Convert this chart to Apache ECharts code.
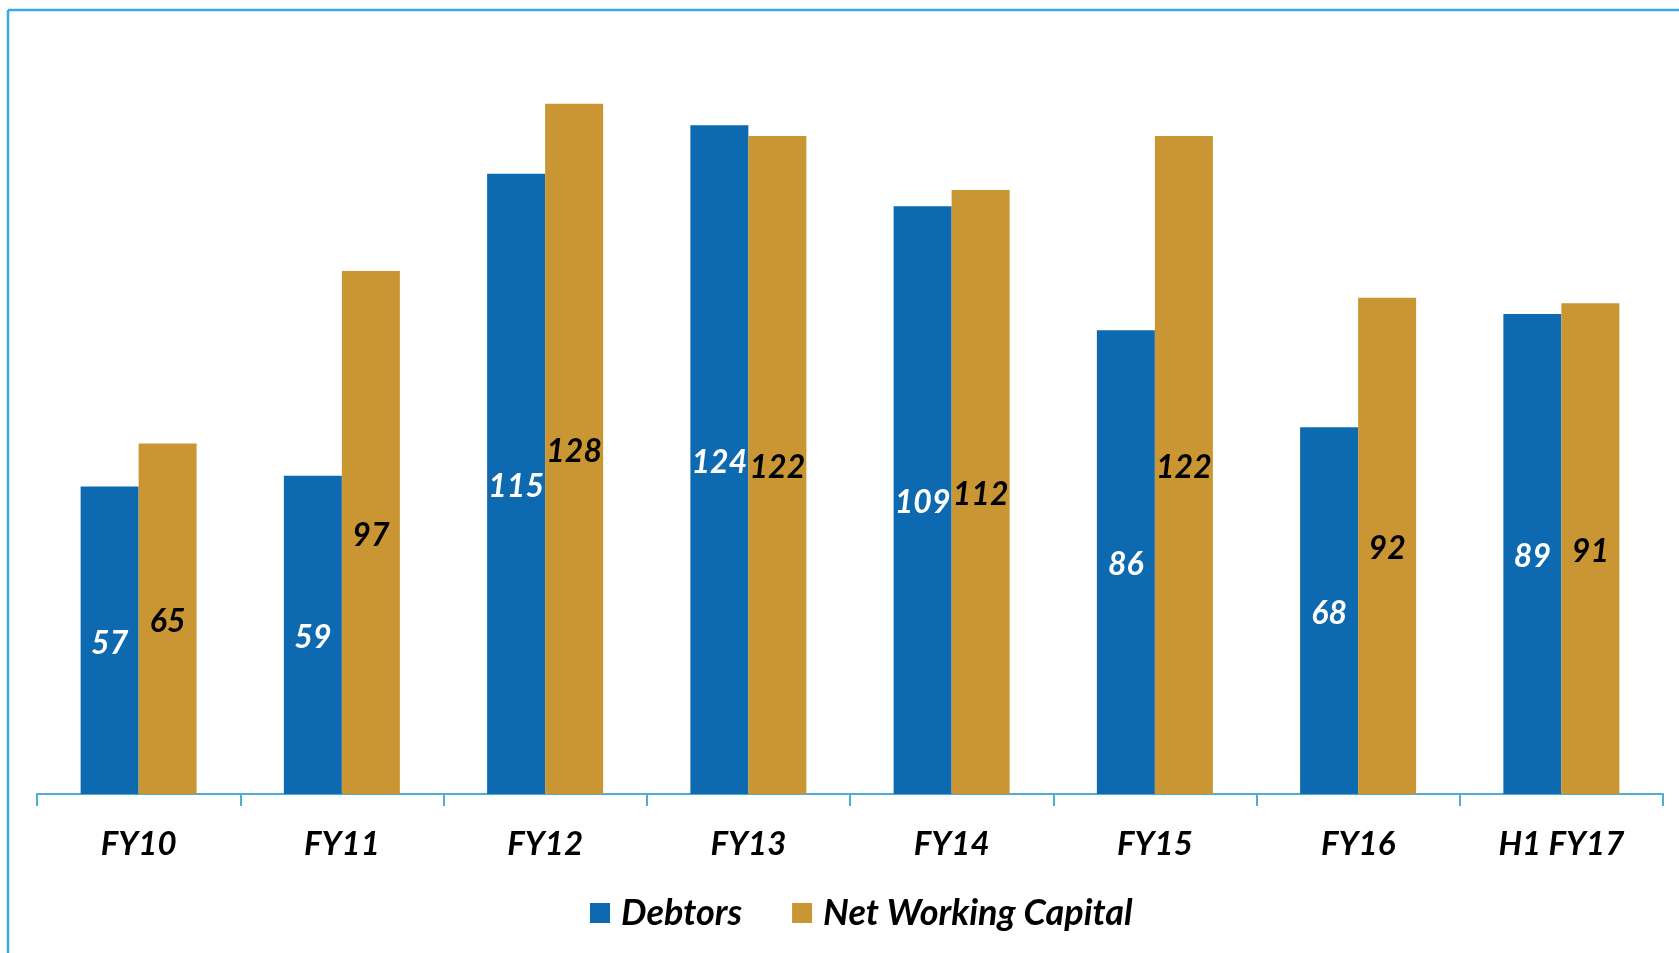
<!DOCTYPE html>
<html><head><meta charset="utf-8">
<script src="https://cdn.jsdelivr.net/npm/echarts@6/dist/echarts.min.js"></script>
<style>html,body{margin:0;padding:0;background:#fff}#c{width:1679px;height:953px}</style>
</head><body><div id="c"></div>
<script>
const categories = ['FY10','FY11','FY12','FY13','FY14','FY15','FY16','H1 FY17'];
const debtors = [57,59,115,124,109,86,68,89];
const nwc = [65,97,128,122,112,122,92,91];
const seriesNames = ['Debtors','Net Working Capital'];

const FONT = 'Lato';
const chart = echarts.init(document.getElementById('c'), null, {renderer:'canvas'});
chart.setOption({
  animation:false,
  backgroundColor:'#fff',
  graphic:[
    {type:'line', shape:{x1:8,y1:10,x2:1679,y2:10}, style:{stroke:'#36A9E1',lineWidth:2.5}},
    {type:'line', shape:{x1:8,y1:10,x2:8,y2:953}, style:{stroke:'#36A9E1',lineWidth:2.5}}
  ],
  grid:{left:37,right:16,top:39,bottom:159,containLabel:false},
  legend:{
    bottom:17, left:585,
    itemWidth:20,itemHeight:20,itemGap:50,
    icon:'rect',
    textStyle:{fontFamily:FONT,fontSize:36,fontWeight:'bold',fontStyle:'italic',color:'#000',padding:[0,0,0,6]},
    data:seriesNames
  },
  xAxis:{
    type:'category', data:categories,
    axisLine:{show:true,lineStyle:{color:'#4FAFCE',width:2}},
    axisTick:{show:true,alignWithLabel:false,interval:0,length:12,lineStyle:{color:'#4FAFCE',width:2}},
    axisLabel:{margin:34,fontFamily:FONT,fontSize:33,fontWeight:'bold',fontStyle:'italic',color:'#000'}
  },
  yAxis:{type:'value',min:0,max:140,show:false,splitLine:{show:false}},
  series:[
    {name:seriesNames[0],type:'bar',data:debtors,barWidth:58,barGap:'0%',
     itemStyle:{color:'#0E6AB0'},
     label:{show:true,position:'inside',offset:[0,3],fontFamily:FONT,fontSize:32,fontWeight:'bold',fontStyle:'italic',color:'#fff'}},
    {name:seriesNames[1],type:'bar',data:nwc,barWidth:58,barGap:'0%',
     itemStyle:{color:'#C99633'},
     label:{show:true,position:'inside',offset:[0,3],fontFamily:FONT,fontSize:32,fontWeight:'bold',fontStyle:'italic',color:'#000'}}
  ]
});
</script></body></html>
